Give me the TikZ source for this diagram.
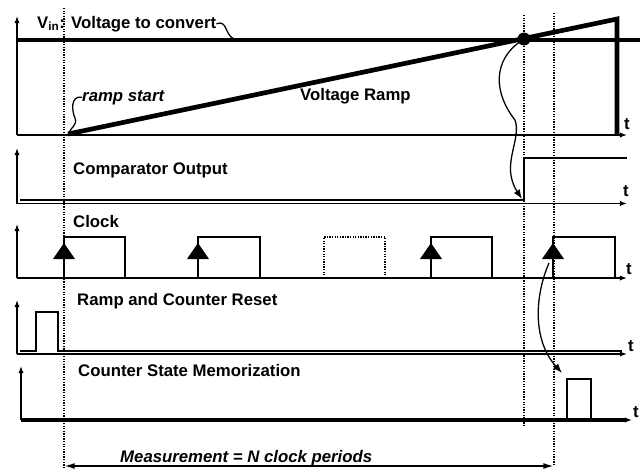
\documentclass[tikz,border=0pt]{standalone}
\usepackage{fontspec}
\setmainfont{Liberation Sans}
\usetikzlibrary{arrows.meta, positioning}

\tikzset{
  axis/.style={-{Latex[length=6pt,width=4.5pt]}, line width=1.5pt},
  wave/.style={line width=1.7pt, line join=miter},
  guide/.style={line width=1.4pt, dash pattern=on 1.1pt off 1.1pt},
  pointer/.style={line width=1.1pt, -{Latex[length=8pt,width=6pt]}},
  hint/.style={line width=1.1pt},
}

\begin{document}
\begin{tikzpicture}[x=0.03cm, y=-0.03cm,
    every node/.style={font=\bfseries\fontsize{14.3}{16}\selectfont, inner sep=0pt}]
  \useasboundingbox (0,0) rectangle (640,470);

  % measurement window
  \draw[guide] (64,8) -- (64,468);
  \draw[guide] (524,15) -- (524,425);
  \draw[guide] (554,13) -- (554,465);

  % V_in and ramp
  \draw[axis] (17,135) -- (17,16);
  \draw[axis] (17,135) -- (627,135);
  \node (t1) at (627,124) {t};
  \draw[line width=3.2pt] (17,40) -- (640,40);
  \draw[line width=4pt, line join=miter] (68,134) -- (617,19) -- (617,135);
  \coordinate (ramporigin) at (69,133);
  \coordinate (vinhit) at (234,39);
  \coordinate (cross) at (524,39);
  \fill (cross) circle (6.5);
  \node[anchor=base west] (vinlbl) at (37,28) {V\textsubscript{in}: Voltage to convert};
  \node[anchor=base west, font=\bfseries\itshape\fontsize{14.3}{16}\selectfont] (rampstart) at (82,101) {ramp start};
  \node[anchor=base west] (ramplbl) at (300,100) {Voltage Ramp};
  \draw[hint] (vinlbl.east) .. controls (228,20) and (224,34) .. (vinhit);
  \draw[hint] (rampstart.west) .. controls (70,95) and (72,112) .. (75,118)
    .. controls (78,125) and (70,128) .. (ramporigin);

  % comparator output
  \draw[axis] (17,203.5) -- (17,148);
  \draw[axis] (17,203.5) -- (627,203.5);
  \node (t2) at (626,191) {t};
  \draw[wave] (20,200) -- (524,200) -- (524,158) -- (627,158);
  \node[anchor=base west] (cmplbl) at (73,174) {Comparator Output};
  \coordinate (cmphit) at (522,199);
  \draw[pointer] (cross) .. controls (490,60) and (495,95) .. (515,120)
    .. controls (522,140) and (500,165) .. (cmphit);

  % clock
  \draw[axis] (17,278) -- (17,224);
  \draw[axis] (17,278) -- (627,278);
  \node (t3) at (629,269) {t};
  \node[anchor=base west] (clklbl) at (73,227) {Clock};
  \draw[wave] (64,278) -- (64,237) -- (125,237) -- (125,278);
  \draw[wave] (198,278) -- (198,237) -- (260,237) -- (260,278);
  \draw[guide] (324,278) -- (324,237) -- (385,237) -- (385,278);
  \draw[wave] (431,278) -- (431,237) -- (492,237) -- (492,278);
  \draw[wave] (553,278) -- (553,237) -- (615,237) -- (615,278);
  \fill (64,243) -- (53,259) -- (75,259) -- cycle;
  \fill (198,243) -- (187,259) -- (209,259) -- cycle;
  \fill (431,243) -- (420,259) -- (442,259) -- cycle;
  \fill (553,243) -- (542,259) -- (564,259) -- cycle;
  \draw[line width=2.4pt] (64,259) -- (64,278);
  \draw[line width=2.4pt] (198,259) -- (198,278);
  \draw[line width=2.4pt] (431,259) -- (431,278);
  \draw[line width=2.4pt] (553,259) -- (553,278);

  % ramp and counter reset
  \draw[axis] (17,354) -- (17,300);
  \draw[axis] (17,354) -- (627,354);
  \node (t4) at (631,346) {t};
  \node[anchor=base west] (rstlbl) at (77,305) {Ramp and Counter Reset};
  \draw[wave] (20,351) -- (36,351) -- (36,312) -- (58,312) -- (58,351) -- (622,351);

  % counter state memorization
  \draw[axis, line width=2.2pt] (21,420) -- (21,366);
  \draw[axis, line width=3pt] (21,420) -- (632,420);
  \node (t5) at (636,412) {t};
  \node[anchor=base west] (memlbl) at (78,376) {Counter State Memorization};
  \draw[wave] (567,420) -- (567,379) -- (591,379) -- (591,420);
  \coordinate (clkhit) at (549,263);
  \coordinate (memhit) at (562,373);
  \draw[pointer] (clkhit) .. controls (535,295) and (532,340) .. (memhit);

  % measurement span
  \coordinate (measL) at (64,466);
  \coordinate (measR) at (554,466);
  \draw[{Latex[length=9pt,width=5pt]}-{Latex[length=9pt,width=5pt]}, line width=1.5pt] (measL) -- (measR);
  \node[anchor=base west, font=\bfseries\itshape\fontsize{14.3}{16}\selectfont] (meas) at (120,462) {Measurement = N clock periods};
\end{tikzpicture}
\end{document}
